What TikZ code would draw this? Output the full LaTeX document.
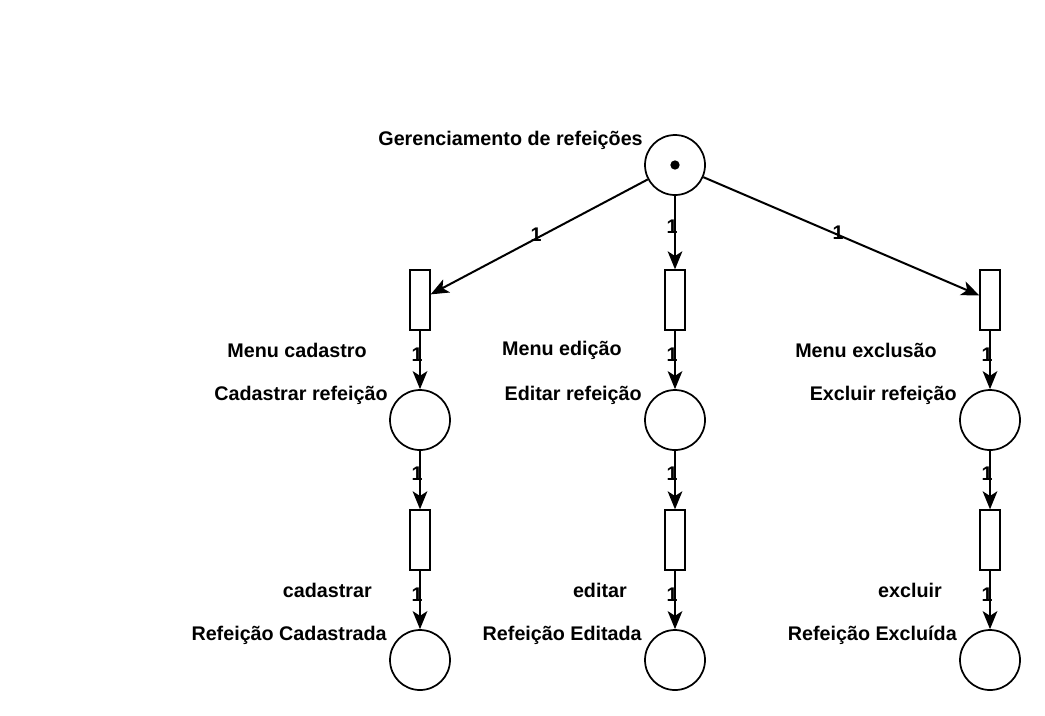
\documentclass[tikz,border=0pt]{standalone}
\usepackage{fontspec}
\setmainfont{Liberation Sans}
\usetikzlibrary{arrows.meta}

\tikzset{
    place/.style={circle, draw, line width=1.3pt, minimum size=45pt, inner sep=0pt},
    trans/.style={rectangle, draw, line width=1pt, minimum width=15pt, minimum height=45pt, inner sep=0pt},
    arc/.style={line width=1.5pt, -{Stealth[length=13.5pt, width=11pt, inset=3.5pt]}},
    lbl/.style={anchor=east, inner sep=0pt, font=\fontsize{14.8}{17}\selectfont\bfseries},
    weight/.style={inner sep=0pt, font=\fontsize{14.8}{17}\selectfont\bfseries}
}

\begin{document}
\begin{tikzpicture}[x=0.75pt, y=-0.75pt]
    % page frame
    \useasboundingbox (0,0) rectangle (1045,715);

    % top place with its token
    \node[place] (p0) at (675,165) {};
    \fill (p0.center) circle (3.5pt);
    \node[lbl] at (643,140) {Gerenciamento de refeições};

    % first transitions
    \node[trans] (t1) at (420,300) {};
    \node[trans] (t2) at (675,300) {};
    \node[trans] (t3) at (990,300) {};
    \node[lbl] at (367,350) {Menu cadastro};
    \node[lbl] at (622,350) {Menu edição};
    \node[lbl] at (937,350) {Menu exclusão};

    % middle places
    \node[place] (p1) at (420,420) {};
    \node[place] (p2) at (675,420) {};
    \node[place] (p3) at (990,420) {};
    \node[lbl] at (388,395) {Cadastrar refeição};
    \node[lbl] at (642,395) {Editar refeição};
    \node[lbl] at (957,395) {Excluir refeição};

    % second transitions
    \node[trans] (t4) at (420,540) {};
    \node[trans] (t5) at (675,540) {};
    \node[trans] (t6) at (990,540) {};
    \node[lbl] at (372,590) {cadastrar};
    \node[lbl] at (627,590) {editar};
    \node[lbl] at (942,590) {excluir};

    % bottom places
    \node[place] (p4) at (420,660) {};
    \node[place] (p5) at (675,660) {};
    \node[place] (p6) at (990,660) {};
    \node[lbl] at (387,635) {Refeição Cadastrada};
    \node[lbl] at (642,635) {Refeição Editada};
    \node[lbl] at (957,635) {Refeição Excluída};

    % arcs from the top place
    \draw[arc] (p0) -- (t1);
    \draw[arc] (p0) -- (t2);
    \draw[arc] (p0) -- (t3);
    \node[weight] at (536,235) {1};
    \node[weight] at (672,227) {1};
    \node[weight] at (838,233) {1};

    % arcs down each column
    \draw[arc] (t1) -- (p1);
    \draw[arc] (t2) -- (p2);
    \draw[arc] (t3) -- (p3);
    \draw[arc] (p1) -- (t4);
    \draw[arc] (p2) -- (t5);
    \draw[arc] (p3) -- (t6);
    \draw[arc] (t4) -- (p4);
    \draw[arc] (t5) -- (p5);
    \draw[arc] (t6) -- (p6);

    % arc weights
    \foreach \x in {417,672,987}{
        \node[weight] at (\x,355) {1};
        \node[weight] at (\x,474) {1};
        \node[weight] at (\x,595) {1};
    }
\end{tikzpicture}
\end{document}
